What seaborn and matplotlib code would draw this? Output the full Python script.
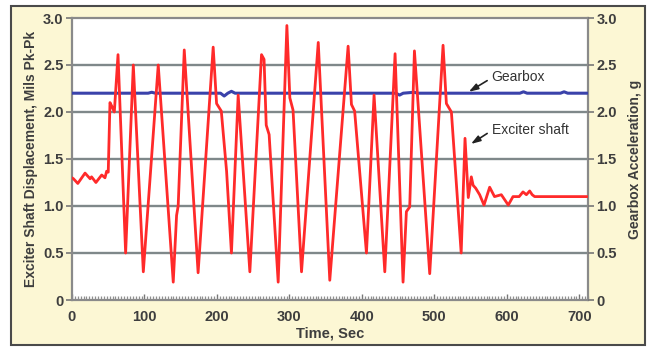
import numpy as np
import pandas as pd
import matplotlib
matplotlib.use("Agg")
import matplotlib.pyplot as plt
from matplotlib import font_manager
from matplotlib.patches import Rectangle
from matplotlib.ticker import MultipleLocator, FuncFormatter
import seaborn as sns

# Exciter shaft displacement (mils pk-pk) vs time (s)
exciter_time = [0, 2, 8, 18, 25, 27, 33, 41, 45.5, 47.8, 50, 52.4, 55, 58.4, 63.5,
                74, 84.6, 98.4, 119, 139.7, 144.3, 146.5, 154.9, 174,
                194.8, 199.5, 206, 213.3, 220, 229.3, 245.4, 261.5, 265, 268, 272,
                284.5, 296.5, 300.6, 305, 316.7, 339.8, 355.7,
                381, 385.6, 390, 406.3, 416.8, 431.6, 445.8, 456.8, 461.4, 466,
                472.5, 493.6, 512, 516.6, 523.5, 537, 542.3, 546.8, 551, 553.5,
                557, 562.5, 568.5, 576.3, 583, 592.4, 602, 608.5, 617, 622.3,
                627, 631.5, 635, 638.4, 711]
exciter_disp = [1.30, 1.29, 1.24, 1.35, 1.29, 1.31, 1.25, 1.33, 1.30, 1.37, 1.36, 2.10, 2.06, 2.00, 2.61,
                0.50, 2.50, 0.30, 2.50, 0.19, 0.90, 1.00, 2.66, 0.29,
                2.69, 2.09, 2.01, 1.37, 0.50, 2.18, 0.30, 2.61, 2.56, 1.86, 1.76,
                0.19, 2.92, 2.15, 2.02, 0.30, 2.74, 0.21,
                2.70, 2.08, 2.01, 0.50, 2.18, 0.30, 2.62, 0.19, 0.94, 0.99,
                2.65, 0.28, 2.71, 2.09, 2.00, 0.50, 1.72, 1.09, 1.31, 1.22,
                1.19, 1.12, 1.01, 1.20, 1.10, 1.12, 1.01, 1.10, 1.10, 1.15,
                1.12, 1.16, 1.12, 1.10, 1.10]

# Gearbox acceleration (g) vs time (s)
gearbox_time = [0, 105, 110, 115, 205, 210, 215, 220, 225, 447, 452, 457, 472, 477,
                618, 623, 628, 674, 679, 684, 711]
gearbox_acc = [2.20, 2.20, 2.21, 2.20, 2.20, 2.17, 2.20, 2.22, 2.20, 2.20, 2.18, 2.20, 2.21, 2.20,
               2.20, 2.215, 2.20, 2.20, 2.215, 2.20, 2.20]

y_ticks = [0, 0.5, 1.0, 1.5, 2.0, 2.5, 3.0]
x_ticks = [0, 100, 200, 300, 400, 500, 600, 700]

sns.set_theme(style="white")
installed = {f.name for f in font_manager.fontManager.ttflist}
family = "Liberation Sans Narrow" if "Liberation Sans Narrow" in installed else "Liberation Sans"
plt.rcParams["font.family"] = [family, "DejaVu Sans"]

W, H = 651, 348
fig = plt.figure(figsize=(W / 100, H / 100), dpi=100, facecolor="white")

# cream panel with dark frame, kept behind the axes
fig.patches.append(Rectangle((11 / W, 1 - 345 / H), 634 / W, 339 / H,
                             transform=fig.transFigure, facecolor="#fcf7d4",
                             edgecolor="#4a4a4a", linewidth=1.5, zorder=-10))

ax = fig.add_axes([72 / W, 1 - 300 / H, 516 / W, 282 / H])
ax.set_zorder(1)
ax.set_facecolor("white")

df_exc = pd.DataFrame({"t": exciter_time, "v": exciter_disp})
df_gb = pd.DataFrame({"t": gearbox_time, "v": gearbox_acc})

sns.lineplot(data=df_exc, x="t", y="v", ax=ax, color="#ff2a2a", linewidth=2.0,
             sort=False, estimator=None, zorder=4, solid_joinstyle="round")
sns.lineplot(data=df_gb, x="t", y="v", ax=ax, color="#3a42aa", linewidth=2.2,
             sort=False, estimator=None, zorder=3)

ax.set_xlim(0, 712)
ax.set_ylim(0, 3.0)
ax.set_xticks(x_ticks)
ax.set_yticks(y_ticks)
ax.xaxis.set_minor_locator(MultipleLocator(4))

fmt = FuncFormatter(lambda v, p: "0" if v == 0 else f"{v:.1f}")
ax.yaxis.set_major_formatter(fmt)

for y in y_ticks[1:-1]:
    ax.axhline(y, color="#7f888a", linewidth=1.7, zorder=1)

for s in ax.spines.values():
    s.set_color("#8a8a8a")
    s.set_linewidth(1.6)

tick_color = "#3e3e3e"
ax.tick_params(axis="y", which="major", direction="out", length=4, width=1.2,
               color="#777777", labelcolor=tick_color, labelsize=10.5, pad=2, left=True)
ax.tick_params(axis="x", which="major", direction="in", length=4, width=1.0,
               color="#777777", labelcolor=tick_color, labelsize=10.5, pad=7, bottom=True)
ax.tick_params(axis="x", which="minor", direction="in", length=3, width=0.9,
               color="#8f8f8f", bottom=True)
for lbl in ax.get_xticklabels() + ax.get_yticklabels():
    lbl.set_fontweight("bold")

ax.set_xlabel("Time, Sec", fontsize=10.5, fontweight="bold", color=tick_color, labelpad=2)
ax.set_ylabel("Exciter Shaft Displacement, Mils Pk-Pk", fontsize=10, fontweight="bold",
              color=tick_color, labelpad=4)

ax2 = ax.twinx()
ax2.set_ylim(0, 3.0)
ax2.set_yticks(y_ticks)
ax2.yaxis.set_major_formatter(fmt)
ax2.tick_params(axis="y", direction="out", length=4, width=1.2, color="#777777",
                labelcolor=tick_color, labelsize=10.5, pad=2, right=True)
for lbl in ax2.get_yticklabels():
    lbl.set_fontweight("bold")
for s in ax2.spines.values():
    s.set_visible(False)
ax2.set_ylabel("Gearbox Acceleration, g", fontsize=10, fontweight="bold",
               color=tick_color, labelpad=8)

arrow = dict(arrowstyle="-|>,head_length=0.55,head_width=0.18", color="#222222",
             linewidth=1.2, shrinkA=1, shrinkB=0, relpos=(0, 0.45))
ax.annotate("Gearbox", xy=(547.5, 2.215), xytext=(579, 2.37), fontsize=10,
            color="#333333", ha="left", va="center", arrowprops=arrow, zorder=6)
ax.annotate("Exciter shaft", xy=(550.5, 1.66), xytext=(579, 1.81), fontsize=10,
            color="#333333", ha="left", va="center", arrowprops=arrow, zorder=6)

fig.savefig("out.png", dpi=100, facecolor="white")
